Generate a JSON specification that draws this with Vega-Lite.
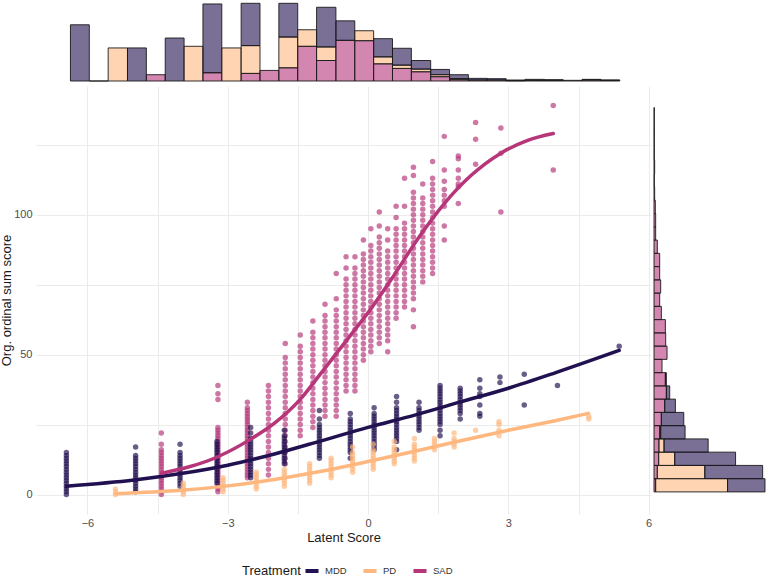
{
"$schema": "https://vega.github.io/schema/vega-lite/v6.json",
"padding": 0,
"autosize": {"type": "pad"},
"config": {"view": {"stroke": null}, "font": "Liberation Sans",
  "axis": {"labelColor": "#4D4D4D", "labelFontSize": 11, "titleFontSize": 13, "titleFontWeight": "normal", "titleColor": "#1a1a1a", "gridColor": "#EBEBEB", "gridWidth": 1, "domain": false, "ticks": false}},
"datasets": {
"fit": [
{"t":"MDD","x":-6.45,"y":3.0},{"t":"MDD","x":-5,"y":5.2},{"t":"MDD","x":-4,"y":7.5},{"t":"MDD","x":-3,"y":10.5},{"t":"MDD","x":-2,"y":14.5},{"t":"MDD","x":-1,"y":19.2},{"t":"MDD","x":0,"y":24.0},{"t":"MDD","x":1,"y":28.4},{"t":"MDD","x":2,"y":33.2},{"t":"MDD","x":3,"y":38.0},{"t":"MDD","x":4,"y":43.5},{"t":"MDD","x":5.37,"y":51.5},
{"t":"PD","x":-5.4,"y":0.3},{"t":"PD","x":-4,"y":1.5},{"t":"PD","x":-3,"y":3.1},{"t":"PD","x":-2,"y":5.4},{"t":"PD","x":-1,"y":8.3},{"t":"PD","x":0,"y":11.8},{"t":"PD","x":1,"y":15.5},{"t":"PD","x":2,"y":19.3},{"t":"PD","x":3,"y":23.0},{"t":"PD","x":4,"y":26.4},{"t":"PD","x":4.71,"y":29.0},
{"t":"SAD","x":-4.41,"y":7.6},{"t":"SAD","x":-3.2,"y":13.6},{"t":"SAD","x":-2.5,"y":19.9},{"t":"SAD","x":-2,"y":25.5},{"t":"SAD","x":-1.45,"y":34},{"t":"SAD","x":-1,"y":43.5},{"t":"SAD","x":-0.38,"y":56.8},{"t":"SAD","x":0,"y":65},{"t":"SAD","x":0.5,"y":77},{"t":"SAD","x":1.11,"y":92.5},{"t":"SAD","x":1.63,"y":104},{"t":"SAD","x":2.2,"y":114},{"t":"SAD","x":2.84,"y":122},{"t":"SAD","x":3.4,"y":126.5},{"t":"SAD","x":3.96,"y":129}
],
"topHist": [
{"t":"MDD","x0":-6.46,"x1":-6.05,"n":170},
{"t":"MDD","x0":-6.05,"x1":-5.64,"n":0},
{"t":"PD","x0":-5.64,"x1":-5.22,"n":100},
{"t":"MDD","x0":-5.22,"x1":-4.81,"n":100},
{"t":"SAD","x0":-4.81,"x1":-4.40,"n":19},
{"t":"MDD","x0":-4.40,"x1":-3.99,"n":130},
{"t":"PD","x0":-3.99,"x1":-3.58,"n":105},
{"t":"SAD","x0":-3.58,"x1":-3.17,"n":25},{"t":"MDD","x0":-3.58,"x1":-3.17,"n":208},
{"t":"PD","x0":-3.17,"x1":-2.75,"n":100},
{"t":"SAD","x0":-2.75,"x1":-2.34,"n":23},{"t":"PD","x0":-2.75,"x1":-2.34,"n":84},{"t":"MDD","x0":-2.75,"x1":-2.34,"n":128},
{"t":"SAD","x0":-2.34,"x1":-1.93,"n":32},
{"t":"SAD","x0":-1.93,"x1":-1.52,"n":40},{"t":"PD","x0":-1.93,"x1":-1.52,"n":93},{"t":"MDD","x0":-1.93,"x1":-1.52,"n":102},
{"t":"SAD","x0":-1.52,"x1":-1.11,"n":105},{"t":"PD","x0":-1.52,"x1":-1.11,"n":50},
{"t":"SAD","x0":-1.11,"x1":-0.69,"n":62},{"t":"PD","x0":-1.11,"x1":-0.69,"n":41},{"t":"MDD","x0":-1.11,"x1":-0.69,"n":120},
{"t":"SAD","x0":-0.69,"x1":-0.28,"n":123},{"t":"MDD","x0":-0.69,"x1":-0.28,"n":59},
{"t":"SAD","x0":-0.28,"x1":0.13,"n":122},{"t":"PD","x0":-0.28,"x1":0.13,"n":30},
{"t":"SAD","x0":0.13,"x1":0.54,"n":52},{"t":"PD","x0":0.13,"x1":0.54,"n":21},{"t":"MDD","x0":0.13,"x1":0.54,"n":55},
{"t":"SAD","x0":0.54,"x1":0.95,"n":38},{"t":"PD","x0":0.54,"x1":0.95,"n":10},{"t":"MDD","x0":0.54,"x1":0.95,"n":51},
{"t":"SAD","x0":0.95,"x1":1.37,"n":28},{"t":"PD","x0":0.95,"x1":1.37,"n":8},{"t":"MDD","x0":0.95,"x1":1.37,"n":26},
{"t":"SAD","x0":1.37,"x1":1.78,"n":13},{"t":"PD","x0":1.37,"x1":1.78,"n":6},{"t":"MDD","x0":1.37,"x1":1.78,"n":16},
{"t":"SAD","x0":1.78,"x1":2.19,"n":4},{"t":"PD","x0":1.78,"x1":2.19,"n":3},{"t":"MDD","x0":1.78,"x1":2.19,"n":12},
{"t":"SAD","x0":2.19,"x1":2.60,"n":3},{"t":"MDD","x0":2.19,"x1":2.60,"n":5},
{"t":"SAD","x0":2.60,"x1":3.01,"n":3},{"t":"MDD","x0":2.60,"x1":3.01,"n":4},
{"t":"SAD","x0":3.01,"x1":3.42,"n":1},{"t":"MDD","x0":3.01,"x1":3.42,"n":2},
{"t":"SAD","x0":3.42,"x1":3.84,"n":2},{"t":"MDD","x0":3.42,"x1":3.84,"n":3},
{"t":"SAD","x0":3.84,"x1":4.25,"n":2},{"t":"MDD","x0":3.84,"x1":4.25,"n":2},
{"t":"MDD","x0":4.25,"x1":4.66,"n":2},
{"t":"SAD","x0":4.66,"x1":5.07,"n":3},{"t":"MDD","x0":4.66,"x1":5.07,"n":2},
{"t":"PD","x0":5.07,"x1":5.48,"n":2},{"t":"MDD","x0":5.07,"x1":5.48,"n":1}
],
"rightHist": [
{"t":"SAD","y0":-0.7,"y1":4.15,"n":5},{"t":"PD","y0":-0.7,"y1":4.15,"n":215},{"t":"MDD","y0":-0.7,"y1":4.15,"n":112},
{"t":"SAD","y0":4.15,"y1":9.0,"n":10},{"t":"PD","y0":4.15,"y1":9.0,"n":142},{"t":"MDD","y0":4.15,"y1":9.0,"n":173},
{"t":"SAD","y0":9.0,"y1":13.85,"n":14},{"t":"PD","y0":9.0,"y1":13.85,"n":48},{"t":"MDD","y0":9.0,"y1":13.85,"n":182},
{"t":"SAD","y0":13.85,"y1":18.7,"n":15},{"t":"PD","y0":13.85,"y1":18.7,"n":15},{"t":"MDD","y0":13.85,"y1":18.7,"n":132},
{"t":"SAD","y0":18.7,"y1":23.55,"n":17},{"t":"PD","y0":18.7,"y1":23.55,"n":3},{"t":"MDD","y0":18.7,"y1":23.55,"n":73},
{"t":"SAD","y0":23.55,"y1":28.4,"n":22},{"t":"MDD","y0":23.55,"y1":28.4,"n":67},
{"t":"SAD","y0":28.4,"y1":33.25,"n":32},{"t":"MDD","y0":28.4,"y1":33.25,"n":32},
{"t":"SAD","y0":33.25,"y1":38.1,"n":37},{"t":"MDD","y0":33.25,"y1":38.1,"n":10},
{"t":"SAD","y0":38.1,"y1":42.95,"n":34},{"t":"MDD","y0":38.1,"y1":42.95,"n":3},
{"t":"SAD","y0":42.95,"y1":47.8,"n":24},
{"t":"SAD","y0":47.8,"y1":52.65,"n":39},
{"t":"SAD","y0":52.65,"y1":57.5,"n":35},
{"t":"SAD","y0":57.5,"y1":62.35,"n":34},
{"t":"SAD","y0":62.35,"y1":67.2,"n":22},
{"t":"SAD","y0":67.2,"y1":72.05,"n":17},
{"t":"SAD","y0":72.05,"y1":76.9,"n":20},
{"t":"SAD","y0":76.9,"y1":81.75,"n":17},
{"t":"SAD","y0":81.75,"y1":86.6,"n":17},
{"t":"SAD","y0":86.6,"y1":91.45,"n":10},
{"t":"SAD","y0":91.45,"y1":96.3,"n":5},
{"t":"SAD","y0":96.3,"y1":101.15,"n":5},
{"t":"SAD","y0":101.15,"y1":106.0,"n":4},
{"t":"SAD","y0":106.0,"y1":110.85,"n":2},
{"t":"SAD","y0":110.85,"y1":115.7,"n":1},
{"t":"SAD","y0":115.7,"y1":120.55,"n":2},
{"t":"SAD","y0":120.55,"y1":125.4,"n":1},
{"t":"SAD","y0":125.4,"y1":130.25,"n":1},
{"t":"SAD","y0":130.25,"y1":135.1,"n":1},
{"t":"SAD","y0":135.1,"y1":139.95,"n":1}
],
"blank": [{"k":""}],
"pts": [
{"t":"SAD","x":-4.42,"y":0},{"t":"SAD","x":-4.42,"y":1},{"t":"SAD","x":-4.42,"y":2},{"t":"SAD","x":-4.42,"y":3},{"t":"SAD","x":-4.42,"y":4},{"t":"SAD","x":-4.42,"y":5},{"t":"SAD","x":-4.42,"y":6},{"t":"SAD","x":-4.42,"y":7},{"t":"SAD","x":-4.42,"y":8},{"t":"SAD","x":-4.42,"y":9},{"t":"SAD","x":-4.42,"y":10},{"t":"SAD","x":-4.42,"y":11},{"t":"SAD","x":-4.42,"y":12},{"t":"SAD","x":-4.42,"y":13},{"t":"SAD","x":-4.42,"y":14},{"t":"SAD","x":-4.42,"y":15},{"t":"SAD","x":-4.42,"y":16},{"t":"SAD","x":-4.42,"y":18},{"t":"SAD","x":-4.42,"y":22},
{"t":"SAD","x":-3.21,"y":1},{"t":"SAD","x":-3.21,"y":2},{"t":"SAD","x":-3.21,"y":3},{"t":"SAD","x":-3.21,"y":4},{"t":"SAD","x":-3.21,"y":5},{"t":"SAD","x":-3.21,"y":6},{"t":"SAD","x":-3.21,"y":7},{"t":"SAD","x":-3.21,"y":8},{"t":"SAD","x":-3.21,"y":9},{"t":"SAD","x":-3.21,"y":10},{"t":"SAD","x":-3.21,"y":11},{"t":"SAD","x":-3.21,"y":12},{"t":"SAD","x":-3.21,"y":13},{"t":"SAD","x":-3.21,"y":14},{"t":"SAD","x":-3.21,"y":15},{"t":"SAD","x":-3.21,"y":16},{"t":"SAD","x":-3.21,"y":17},{"t":"SAD","x":-3.21,"y":18},{"t":"SAD","x":-3.21,"y":19},{"t":"SAD","x":-3.21,"y":20},{"t":"SAD","x":-3.21,"y":21},{"t":"SAD","x":-3.21,"y":22},{"t":"SAD","x":-3.21,"y":23},{"t":"SAD","x":-3.21,"y":24},{"t":"SAD","x":-3.21,"y":34},{"t":"SAD","x":-3.21,"y":36},{"t":"SAD","x":-3.21,"y":39},
{"t":"SAD","x":-2.58,"y":6},{"t":"SAD","x":-2.58,"y":7},{"t":"SAD","x":-2.58,"y":8},{"t":"SAD","x":-2.58,"y":9},{"t":"SAD","x":-2.58,"y":10},{"t":"SAD","x":-2.58,"y":11},{"t":"SAD","x":-2.58,"y":12},{"t":"SAD","x":-2.58,"y":13},{"t":"SAD","x":-2.58,"y":14},{"t":"SAD","x":-2.58,"y":15},{"t":"SAD","x":-2.58,"y":16},{"t":"SAD","x":-2.58,"y":17},{"t":"SAD","x":-2.58,"y":18},{"t":"SAD","x":-2.58,"y":19},{"t":"SAD","x":-2.58,"y":20},{"t":"SAD","x":-2.58,"y":21},{"t":"SAD","x":-2.58,"y":22},{"t":"SAD","x":-2.58,"y":23},{"t":"SAD","x":-2.58,"y":24},{"t":"SAD","x":-2.58,"y":25},{"t":"SAD","x":-2.58,"y":26},{"t":"SAD","x":-2.58,"y":27},{"t":"SAD","x":-2.58,"y":28},{"t":"SAD","x":-2.58,"y":29},{"t":"SAD","x":-2.58,"y":30},{"t":"SAD","x":-2.58,"y":31},{"t":"SAD","x":-2.58,"y":33},
{"t":"SAD","x":-2.13,"y":7},{"t":"SAD","x":-2.13,"y":9},{"t":"SAD","x":-2.13,"y":11},{"t":"SAD","x":-2.13,"y":13},{"t":"SAD","x":-2.13,"y":15},{"t":"SAD","x":-2.13,"y":17},{"t":"SAD","x":-2.13,"y":19},{"t":"SAD","x":-2.13,"y":21},{"t":"SAD","x":-2.13,"y":23},{"t":"SAD","x":-2.13,"y":25},{"t":"SAD","x":-2.13,"y":27},{"t":"SAD","x":-2.13,"y":29},{"t":"SAD","x":-2.13,"y":31},{"t":"SAD","x":-2.13,"y":33},{"t":"SAD","x":-2.13,"y":35},{"t":"SAD","x":-2.13,"y":37},{"t":"SAD","x":-2.13,"y":39},
{"t":"SAD","x":-1.77,"y":11},{"t":"SAD","x":-1.77,"y":13},{"t":"SAD","x":-1.77,"y":15},{"t":"SAD","x":-1.77,"y":17},{"t":"SAD","x":-1.77,"y":19},{"t":"SAD","x":-1.77,"y":21},{"t":"SAD","x":-1.77,"y":23},{"t":"SAD","x":-1.77,"y":25},{"t":"SAD","x":-1.77,"y":27},{"t":"SAD","x":-1.77,"y":29},{"t":"SAD","x":-1.77,"y":31},{"t":"SAD","x":-1.77,"y":33},{"t":"SAD","x":-1.77,"y":35},{"t":"SAD","x":-1.77,"y":37},{"t":"SAD","x":-1.77,"y":39},{"t":"SAD","x":-1.77,"y":41},{"t":"SAD","x":-1.77,"y":43},{"t":"SAD","x":-1.77,"y":45},{"t":"SAD","x":-1.77,"y":47},{"t":"SAD","x":-1.77,"y":49},{"t":"SAD","x":-1.77,"y":54},
{"t":"SAD","x":-1.45,"y":21},{"t":"SAD","x":-1.45,"y":23},{"t":"SAD","x":-1.45,"y":25},{"t":"SAD","x":-1.45,"y":27},{"t":"SAD","x":-1.45,"y":29},{"t":"SAD","x":-1.45,"y":31},{"t":"SAD","x":-1.45,"y":33},{"t":"SAD","x":-1.45,"y":35},{"t":"SAD","x":-1.45,"y":37},{"t":"SAD","x":-1.45,"y":39},{"t":"SAD","x":-1.45,"y":41},{"t":"SAD","x":-1.45,"y":43},{"t":"SAD","x":-1.45,"y":45},{"t":"SAD","x":-1.45,"y":47},{"t":"SAD","x":-1.45,"y":49},{"t":"SAD","x":-1.45,"y":51},{"t":"SAD","x":-1.45,"y":53},{"t":"SAD","x":-1.45,"y":57},
{"t":"SAD","x":-1.18,"y":24},{"t":"SAD","x":-1.18,"y":26},{"t":"SAD","x":-1.18,"y":28},{"t":"SAD","x":-1.18,"y":30},{"t":"SAD","x":-1.18,"y":32},{"t":"SAD","x":-1.18,"y":34},{"t":"SAD","x":-1.18,"y":36},{"t":"SAD","x":-1.18,"y":38},{"t":"SAD","x":-1.18,"y":40},{"t":"SAD","x":-1.18,"y":42},{"t":"SAD","x":-1.18,"y":44},{"t":"SAD","x":-1.18,"y":46},{"t":"SAD","x":-1.18,"y":48},{"t":"SAD","x":-1.18,"y":50},{"t":"SAD","x":-1.18,"y":52},{"t":"SAD","x":-1.18,"y":54},{"t":"SAD","x":-1.18,"y":56},{"t":"SAD","x":-1.18,"y":58},{"t":"SAD","x":-1.18,"y":62},
{"t":"SAD","x":-0.92,"y":28},{"t":"SAD","x":-0.92,"y":30},{"t":"SAD","x":-0.92,"y":32},{"t":"SAD","x":-0.92,"y":34},{"t":"SAD","x":-0.92,"y":36},{"t":"SAD","x":-0.92,"y":38},{"t":"SAD","x":-0.92,"y":40},{"t":"SAD","x":-0.92,"y":42},{"t":"SAD","x":-0.92,"y":44},{"t":"SAD","x":-0.92,"y":46},{"t":"SAD","x":-0.92,"y":48},{"t":"SAD","x":-0.92,"y":50},{"t":"SAD","x":-0.92,"y":52},{"t":"SAD","x":-0.92,"y":54},{"t":"SAD","x":-0.92,"y":56},{"t":"SAD","x":-0.92,"y":58},{"t":"SAD","x":-0.92,"y":60},{"t":"SAD","x":-0.92,"y":62},{"t":"SAD","x":-0.92,"y":64},{"t":"SAD","x":-0.92,"y":68},
{"t":"SAD","x":-0.68,"y":28},{"t":"SAD","x":-0.68,"y":30},{"t":"SAD","x":-0.68,"y":32},{"t":"SAD","x":-0.68,"y":34},{"t":"SAD","x":-0.68,"y":36},{"t":"SAD","x":-0.68,"y":38},{"t":"SAD","x":-0.68,"y":40},{"t":"SAD","x":-0.68,"y":42},{"t":"SAD","x":-0.68,"y":44},{"t":"SAD","x":-0.68,"y":46},{"t":"SAD","x":-0.68,"y":48},{"t":"SAD","x":-0.68,"y":50},{"t":"SAD","x":-0.68,"y":52},{"t":"SAD","x":-0.68,"y":54},{"t":"SAD","x":-0.68,"y":56},{"t":"SAD","x":-0.68,"y":58},{"t":"SAD","x":-0.68,"y":60},{"t":"SAD","x":-0.68,"y":62},{"t":"SAD","x":-0.68,"y":64},{"t":"SAD","x":-0.68,"y":66},{"t":"SAD","x":-0.68,"y":70},{"t":"SAD","x":-0.68,"y":79},
{"t":"SAD","x":-0.47,"y":37},{"t":"SAD","x":-0.47,"y":39},{"t":"SAD","x":-0.47,"y":41},{"t":"SAD","x":-0.47,"y":43},{"t":"SAD","x":-0.47,"y":45},{"t":"SAD","x":-0.47,"y":47},{"t":"SAD","x":-0.47,"y":49},{"t":"SAD","x":-0.47,"y":51},{"t":"SAD","x":-0.47,"y":53},{"t":"SAD","x":-0.47,"y":55},{"t":"SAD","x":-0.47,"y":57},{"t":"SAD","x":-0.47,"y":59},{"t":"SAD","x":-0.47,"y":61},{"t":"SAD","x":-0.47,"y":63},{"t":"SAD","x":-0.47,"y":65},{"t":"SAD","x":-0.47,"y":67},{"t":"SAD","x":-0.47,"y":69},{"t":"SAD","x":-0.47,"y":71},{"t":"SAD","x":-0.47,"y":73},{"t":"SAD","x":-0.47,"y":75},{"t":"SAD","x":-0.47,"y":77},{"t":"SAD","x":-0.47,"y":81},{"t":"SAD","x":-0.47,"y":85},
{"t":"SAD","x":-0.28,"y":37},{"t":"SAD","x":-0.28,"y":39},{"t":"SAD","x":-0.28,"y":41},{"t":"SAD","x":-0.28,"y":43},{"t":"SAD","x":-0.28,"y":45},{"t":"SAD","x":-0.28,"y":47},{"t":"SAD","x":-0.28,"y":49},{"t":"SAD","x":-0.28,"y":51},{"t":"SAD","x":-0.28,"y":53},{"t":"SAD","x":-0.28,"y":55},{"t":"SAD","x":-0.28,"y":57},{"t":"SAD","x":-0.28,"y":59},{"t":"SAD","x":-0.28,"y":61},{"t":"SAD","x":-0.28,"y":63},{"t":"SAD","x":-0.28,"y":65},{"t":"SAD","x":-0.28,"y":67},{"t":"SAD","x":-0.28,"y":69},{"t":"SAD","x":-0.28,"y":71},{"t":"SAD","x":-0.28,"y":73},{"t":"SAD","x":-0.28,"y":75},{"t":"SAD","x":-0.28,"y":77},{"t":"SAD","x":-0.28,"y":79},{"t":"SAD","x":-0.28,"y":81},{"t":"SAD","x":-0.28,"y":85},
{"t":"SAD","x":-0.1,"y":48},{"t":"SAD","x":-0.1,"y":50},{"t":"SAD","x":-0.1,"y":52},{"t":"SAD","x":-0.1,"y":54},{"t":"SAD","x":-0.1,"y":56},{"t":"SAD","x":-0.1,"y":58},{"t":"SAD","x":-0.1,"y":60},{"t":"SAD","x":-0.1,"y":62},{"t":"SAD","x":-0.1,"y":64},{"t":"SAD","x":-0.1,"y":66},{"t":"SAD","x":-0.1,"y":68},{"t":"SAD","x":-0.1,"y":70},{"t":"SAD","x":-0.1,"y":72},{"t":"SAD","x":-0.1,"y":74},{"t":"SAD","x":-0.1,"y":76},{"t":"SAD","x":-0.1,"y":78},{"t":"SAD","x":-0.1,"y":80},{"t":"SAD","x":-0.1,"y":82},{"t":"SAD","x":-0.1,"y":84},{"t":"SAD","x":-0.1,"y":86},{"t":"SAD","x":-0.1,"y":91},
{"t":"SAD","x":0.06,"y":51},{"t":"SAD","x":0.06,"y":53},{"t":"SAD","x":0.06,"y":55},{"t":"SAD","x":0.06,"y":57},{"t":"SAD","x":0.06,"y":59},{"t":"SAD","x":0.06,"y":61},{"t":"SAD","x":0.06,"y":63},{"t":"SAD","x":0.06,"y":65},{"t":"SAD","x":0.06,"y":67},{"t":"SAD","x":0.06,"y":69},{"t":"SAD","x":0.06,"y":71},{"t":"SAD","x":0.06,"y":73},{"t":"SAD","x":0.06,"y":75},{"t":"SAD","x":0.06,"y":77},{"t":"SAD","x":0.06,"y":79},{"t":"SAD","x":0.06,"y":81},{"t":"SAD","x":0.06,"y":83},{"t":"SAD","x":0.06,"y":85},{"t":"SAD","x":0.06,"y":87},{"t":"SAD","x":0.06,"y":89},{"t":"SAD","x":0.06,"y":95},
{"t":"SAD","x":0.24,"y":54},{"t":"SAD","x":0.24,"y":56},{"t":"SAD","x":0.24,"y":58},{"t":"SAD","x":0.24,"y":60},{"t":"SAD","x":0.24,"y":62},{"t":"SAD","x":0.24,"y":64},{"t":"SAD","x":0.24,"y":66},{"t":"SAD","x":0.24,"y":68},{"t":"SAD","x":0.24,"y":70},{"t":"SAD","x":0.24,"y":72},{"t":"SAD","x":0.24,"y":74},{"t":"SAD","x":0.24,"y":76},{"t":"SAD","x":0.24,"y":78},{"t":"SAD","x":0.24,"y":80},{"t":"SAD","x":0.24,"y":82},{"t":"SAD","x":0.24,"y":84},{"t":"SAD","x":0.24,"y":86},{"t":"SAD","x":0.24,"y":88},{"t":"SAD","x":0.24,"y":90},{"t":"SAD","x":0.24,"y":92},{"t":"SAD","x":0.24,"y":96},{"t":"SAD","x":0.24,"y":101},
{"t":"SAD","x":0.42,"y":51},{"t":"SAD","x":0.42,"y":55},{"t":"SAD","x":0.42,"y":57},{"t":"SAD","x":0.42,"y":59},{"t":"SAD","x":0.42,"y":61},{"t":"SAD","x":0.42,"y":63},{"t":"SAD","x":0.42,"y":65},{"t":"SAD","x":0.42,"y":67},{"t":"SAD","x":0.42,"y":69},{"t":"SAD","x":0.42,"y":71},{"t":"SAD","x":0.42,"y":73},{"t":"SAD","x":0.42,"y":75},{"t":"SAD","x":0.42,"y":77},{"t":"SAD","x":0.42,"y":79},{"t":"SAD","x":0.42,"y":81},{"t":"SAD","x":0.42,"y":83},{"t":"SAD","x":0.42,"y":85},{"t":"SAD","x":0.42,"y":87},{"t":"SAD","x":0.42,"y":91},{"t":"SAD","x":0.42,"y":95},
{"t":"SAD","x":0.6,"y":63},{"t":"SAD","x":0.6,"y":65},{"t":"SAD","x":0.6,"y":67},{"t":"SAD","x":0.6,"y":69},{"t":"SAD","x":0.6,"y":71},{"t":"SAD","x":0.6,"y":73},{"t":"SAD","x":0.6,"y":75},{"t":"SAD","x":0.6,"y":77},{"t":"SAD","x":0.6,"y":79},{"t":"SAD","x":0.6,"y":81},{"t":"SAD","x":0.6,"y":83},{"t":"SAD","x":0.6,"y":85},{"t":"SAD","x":0.6,"y":87},{"t":"SAD","x":0.6,"y":89},{"t":"SAD","x":0.6,"y":91},{"t":"SAD","x":0.6,"y":93},{"t":"SAD","x":0.6,"y":95},{"t":"SAD","x":0.6,"y":99},{"t":"SAD","x":0.6,"y":103},
{"t":"SAD","x":0.78,"y":67},{"t":"SAD","x":0.78,"y":69},{"t":"SAD","x":0.78,"y":71},{"t":"SAD","x":0.78,"y":73},{"t":"SAD","x":0.78,"y":75},{"t":"SAD","x":0.78,"y":77},{"t":"SAD","x":0.78,"y":79},{"t":"SAD","x":0.78,"y":81},{"t":"SAD","x":0.78,"y":83},{"t":"SAD","x":0.78,"y":85},{"t":"SAD","x":0.78,"y":87},{"t":"SAD","x":0.78,"y":89},{"t":"SAD","x":0.78,"y":91},{"t":"SAD","x":0.78,"y":93},{"t":"SAD","x":0.78,"y":95},{"t":"SAD","x":0.78,"y":97},{"t":"SAD","x":0.78,"y":103},{"t":"SAD","x":0.78,"y":113},
{"t":"SAD","x":0.97,"y":60},{"t":"SAD","x":0.97,"y":66},{"t":"SAD","x":0.97,"y":70},{"t":"SAD","x":0.97,"y":72},{"t":"SAD","x":0.97,"y":74},{"t":"SAD","x":0.97,"y":76},{"t":"SAD","x":0.97,"y":78},{"t":"SAD","x":0.97,"y":80},{"t":"SAD","x":0.97,"y":82},{"t":"SAD","x":0.97,"y":84},{"t":"SAD","x":0.97,"y":86},{"t":"SAD","x":0.97,"y":88},{"t":"SAD","x":0.97,"y":90},{"t":"SAD","x":0.97,"y":92},{"t":"SAD","x":0.97,"y":94},{"t":"SAD","x":0.97,"y":96},{"t":"SAD","x":0.97,"y":98},{"t":"SAD","x":0.97,"y":100},{"t":"SAD","x":0.97,"y":102},{"t":"SAD","x":0.97,"y":104},{"t":"SAD","x":0.97,"y":106},{"t":"SAD","x":0.97,"y":108},{"t":"SAD","x":0.97,"y":114},{"t":"SAD","x":0.97,"y":117},
{"t":"SAD","x":1.17,"y":76},{"t":"SAD","x":1.17,"y":78},{"t":"SAD","x":1.17,"y":80},{"t":"SAD","x":1.17,"y":82},{"t":"SAD","x":1.17,"y":84},{"t":"SAD","x":1.17,"y":86},{"t":"SAD","x":1.17,"y":88},{"t":"SAD","x":1.17,"y":90},{"t":"SAD","x":1.17,"y":92},{"t":"SAD","x":1.17,"y":94},{"t":"SAD","x":1.17,"y":96},{"t":"SAD","x":1.17,"y":98},{"t":"SAD","x":1.17,"y":100},{"t":"SAD","x":1.17,"y":102},{"t":"SAD","x":1.17,"y":104},{"t":"SAD","x":1.17,"y":106},{"t":"SAD","x":1.17,"y":111},
{"t":"SAD","x":1.38,"y":79},{"t":"SAD","x":1.38,"y":81},{"t":"SAD","x":1.38,"y":83},{"t":"SAD","x":1.38,"y":85},{"t":"SAD","x":1.38,"y":87},{"t":"SAD","x":1.38,"y":89},{"t":"SAD","x":1.38,"y":91},{"t":"SAD","x":1.38,"y":93},{"t":"SAD","x":1.38,"y":95},{"t":"SAD","x":1.38,"y":97},{"t":"SAD","x":1.38,"y":99},{"t":"SAD","x":1.38,"y":101},{"t":"SAD","x":1.38,"y":103},{"t":"SAD","x":1.38,"y":105},{"t":"SAD","x":1.38,"y":107},{"t":"SAD","x":1.38,"y":109},{"t":"SAD","x":1.38,"y":111},{"t":"SAD","x":1.38,"y":113},{"t":"SAD","x":1.38,"y":119},
{"t":"SAD","x":1.63,"y":91},{"t":"SAD","x":1.63,"y":96},{"t":"SAD","x":1.63,"y":103},{"t":"SAD","x":1.63,"y":105},{"t":"SAD","x":1.63,"y":107},{"t":"SAD","x":1.63,"y":109},{"t":"SAD","x":1.63,"y":112},{"t":"SAD","x":1.63,"y":116},{"t":"SAD","x":1.63,"y":128},
{"t":"SAD","x":1.93,"y":104},{"t":"SAD","x":1.93,"y":110},{"t":"SAD","x":1.93,"y":111},{"t":"SAD","x":1.93,"y":113},{"t":"SAD","x":1.93,"y":116},{"t":"SAD","x":1.93,"y":120},{"t":"SAD","x":1.93,"y":121},
{"t":"SAD","x":2.3,"y":118},{"t":"SAD","x":2.3,"y":127},{"t":"SAD","x":2.3,"y":133},
{"t":"SAD","x":2.84,"y":101},{"t":"SAD","x":2.84,"y":122},{"t":"SAD","x":2.84,"y":131},
{"t":"SAD","x":3.96,"y":116},{"t":"SAD","x":3.96,"y":139},
{"t":"MDD","x":-6.45,"y":0},{"t":"MDD","x":-6.45,"y":1},{"t":"MDD","x":-6.45,"y":2},{"t":"MDD","x":-6.45,"y":3},{"t":"MDD","x":-6.45,"y":4},{"t":"MDD","x":-6.45,"y":5},{"t":"MDD","x":-6.45,"y":6},{"t":"MDD","x":-6.45,"y":7},{"t":"MDD","x":-6.45,"y":8},{"t":"MDD","x":-6.45,"y":9},{"t":"MDD","x":-6.45,"y":10},{"t":"MDD","x":-6.45,"y":11},{"t":"MDD","x":-6.45,"y":12},{"t":"MDD","x":-6.45,"y":13},{"t":"MDD","x":-6.45,"y":14},{"t":"MDD","x":-6.45,"y":15},
{"t":"MDD","x":-4.97,"y":1},{"t":"MDD","x":-4.97,"y":2},{"t":"MDD","x":-4.97,"y":3},{"t":"MDD","x":-4.97,"y":4},{"t":"MDD","x":-4.97,"y":5},{"t":"MDD","x":-4.97,"y":6},{"t":"MDD","x":-4.97,"y":7},{"t":"MDD","x":-4.97,"y":8},{"t":"MDD","x":-4.97,"y":9},{"t":"MDD","x":-4.97,"y":10},{"t":"MDD","x":-4.97,"y":11},{"t":"MDD","x":-4.97,"y":12},{"t":"MDD","x":-4.97,"y":13},{"t":"MDD","x":-4.97,"y":14},{"t":"MDD","x":-4.97,"y":17},
{"t":"MDD","x":-4.02,"y":3},{"t":"MDD","x":-4.02,"y":4},{"t":"MDD","x":-4.02,"y":5},{"t":"MDD","x":-4.02,"y":6},{"t":"MDD","x":-4.02,"y":7},{"t":"MDD","x":-4.02,"y":8},{"t":"MDD","x":-4.02,"y":9},{"t":"MDD","x":-4.02,"y":10},{"t":"MDD","x":-4.02,"y":11},{"t":"MDD","x":-4.02,"y":12},{"t":"MDD","x":-4.02,"y":13},{"t":"MDD","x":-4.02,"y":14},{"t":"MDD","x":-4.02,"y":15},{"t":"MDD","x":-4.02,"y":18},
{"t":"MDD","x":-3.23,"y":4},{"t":"MDD","x":-3.23,"y":5},{"t":"MDD","x":-3.23,"y":6},{"t":"MDD","x":-3.23,"y":7},{"t":"MDD","x":-3.23,"y":8},{"t":"MDD","x":-3.23,"y":9},{"t":"MDD","x":-3.23,"y":10},{"t":"MDD","x":-3.23,"y":11},{"t":"MDD","x":-3.23,"y":12},{"t":"MDD","x":-3.23,"y":13},{"t":"MDD","x":-3.23,"y":14},{"t":"MDD","x":-3.23,"y":15},{"t":"MDD","x":-3.23,"y":16},{"t":"MDD","x":-3.23,"y":17},{"t":"MDD","x":-3.23,"y":18},{"t":"MDD","x":-3.23,"y":19},
{"t":"MDD","x":-2.51,"y":6},{"t":"MDD","x":-2.51,"y":7},{"t":"MDD","x":-2.51,"y":8},{"t":"MDD","x":-2.51,"y":9},{"t":"MDD","x":-2.51,"y":10},{"t":"MDD","x":-2.51,"y":11},{"t":"MDD","x":-2.51,"y":12},{"t":"MDD","x":-2.51,"y":13},{"t":"MDD","x":-2.51,"y":14},{"t":"MDD","x":-2.51,"y":15},{"t":"MDD","x":-2.51,"y":16},{"t":"MDD","x":-2.51,"y":17},{"t":"MDD","x":-2.51,"y":18},{"t":"MDD","x":-2.51,"y":19},{"t":"MDD","x":-2.51,"y":20},{"t":"MDD","x":-2.51,"y":22},{"t":"MDD","x":-2.51,"y":24},
{"t":"MDD","x":-1.79,"y":11},{"t":"MDD","x":-1.79,"y":12},{"t":"MDD","x":-1.79,"y":13},{"t":"MDD","x":-1.79,"y":14},{"t":"MDD","x":-1.79,"y":15},{"t":"MDD","x":-1.79,"y":16},{"t":"MDD","x":-1.79,"y":17},{"t":"MDD","x":-1.79,"y":18},{"t":"MDD","x":-1.79,"y":19},{"t":"MDD","x":-1.79,"y":20},{"t":"MDD","x":-1.79,"y":21},{"t":"MDD","x":-1.79,"y":23},
{"t":"MDD","x":-1.04,"y":13},{"t":"MDD","x":-1.04,"y":14},{"t":"MDD","x":-1.04,"y":15},{"t":"MDD","x":-1.04,"y":16},{"t":"MDD","x":-1.04,"y":17},{"t":"MDD","x":-1.04,"y":18},{"t":"MDD","x":-1.04,"y":19},{"t":"MDD","x":-1.04,"y":20},{"t":"MDD","x":-1.04,"y":21},{"t":"MDD","x":-1.04,"y":22},{"t":"MDD","x":-1.04,"y":23},{"t":"MDD","x":-1.04,"y":24},{"t":"MDD","x":-1.04,"y":25},{"t":"MDD","x":-1.04,"y":27},{"t":"MDD","x":-1.04,"y":30},
{"t":"MDD","x":-0.38,"y":13},{"t":"MDD","x":-0.38,"y":15},{"t":"MDD","x":-0.38,"y":16},{"t":"MDD","x":-0.38,"y":17},{"t":"MDD","x":-0.38,"y":18},{"t":"MDD","x":-0.38,"y":19},{"t":"MDD","x":-0.38,"y":20},{"t":"MDD","x":-0.38,"y":21},{"t":"MDD","x":-0.38,"y":22},{"t":"MDD","x":-0.38,"y":23},{"t":"MDD","x":-0.38,"y":24},{"t":"MDD","x":-0.38,"y":25},{"t":"MDD","x":-0.38,"y":26},{"t":"MDD","x":-0.38,"y":27},{"t":"MDD","x":-0.38,"y":29},
{"t":"MDD","x":0.13,"y":16},{"t":"MDD","x":0.13,"y":17},{"t":"MDD","x":0.13,"y":18},{"t":"MDD","x":0.13,"y":19},{"t":"MDD","x":0.13,"y":20},{"t":"MDD","x":0.13,"y":21},{"t":"MDD","x":0.13,"y":22},{"t":"MDD","x":0.13,"y":23},{"t":"MDD","x":0.13,"y":24},{"t":"MDD","x":0.13,"y":25},{"t":"MDD","x":0.13,"y":26},{"t":"MDD","x":0.13,"y":27},{"t":"MDD","x":0.13,"y":28},{"t":"MDD","x":0.13,"y":29},{"t":"MDD","x":0.13,"y":31},
{"t":"MDD","x":0.61,"y":16},{"t":"MDD","x":0.61,"y":19},{"t":"MDD","x":0.61,"y":20},{"t":"MDD","x":0.61,"y":21},{"t":"MDD","x":0.61,"y":22},{"t":"MDD","x":0.61,"y":23},{"t":"MDD","x":0.61,"y":24},{"t":"MDD","x":0.61,"y":25},{"t":"MDD","x":0.61,"y":26},{"t":"MDD","x":0.61,"y":27},{"t":"MDD","x":0.61,"y":28},{"t":"MDD","x":0.61,"y":29},{"t":"MDD","x":0.61,"y":30},{"t":"MDD","x":0.61,"y":31},{"t":"MDD","x":0.61,"y":33},{"t":"MDD","x":0.61,"y":35},
{"t":"MDD","x":1.09,"y":23},{"t":"MDD","x":1.09,"y":24},{"t":"MDD","x":1.09,"y":25},{"t":"MDD","x":1.09,"y":26},{"t":"MDD","x":1.09,"y":27},{"t":"MDD","x":1.09,"y":28},{"t":"MDD","x":1.09,"y":29},{"t":"MDD","x":1.09,"y":30},{"t":"MDD","x":1.09,"y":31},{"t":"MDD","x":1.09,"y":33},
{"t":"MDD","x":1.54,"y":21},{"t":"MDD","x":1.54,"y":23},{"t":"MDD","x":1.54,"y":25},{"t":"MDD","x":1.54,"y":26},{"t":"MDD","x":1.54,"y":27},{"t":"MDD","x":1.54,"y":28},{"t":"MDD","x":1.54,"y":29},{"t":"MDD","x":1.54,"y":30},{"t":"MDD","x":1.54,"y":31},{"t":"MDD","x":1.54,"y":32},{"t":"MDD","x":1.54,"y":33},{"t":"MDD","x":1.54,"y":34},{"t":"MDD","x":1.54,"y":35},{"t":"MDD","x":1.54,"y":36},{"t":"MDD","x":1.54,"y":37},{"t":"MDD","x":1.54,"y":38},{"t":"MDD","x":1.54,"y":39},
{"t":"MDD","x":1.97,"y":27},{"t":"MDD","x":1.97,"y":29},{"t":"MDD","x":1.97,"y":30},{"t":"MDD","x":1.97,"y":31},{"t":"MDD","x":1.97,"y":32},{"t":"MDD","x":1.97,"y":33},{"t":"MDD","x":1.97,"y":34},{"t":"MDD","x":1.97,"y":35},{"t":"MDD","x":1.97,"y":36},{"t":"MDD","x":1.97,"y":37},{"t":"MDD","x":1.97,"y":38},
{"t":"MDD","x":2.39,"y":28},{"t":"MDD","x":2.39,"y":29},{"t":"MDD","x":2.39,"y":32},{"t":"MDD","x":2.39,"y":35},{"t":"MDD","x":2.39,"y":36},{"t":"MDD","x":2.39,"y":38},{"t":"MDD","x":2.39,"y":41},
{"t":"MDD","x":2.82,"y":40},{"t":"MDD","x":2.82,"y":42},
{"t":"MDD","x":3.34,"y":32},{"t":"MDD","x":3.34,"y":43},
{"t":"MDD","x":4.05,"y":39},
{"t":"MDD","x":5.37,"y":53},
{"t":"PD","x":-5.4,"y":0},{"t":"PD","x":-5.4,"y":1},{"t":"PD","x":-5.4,"y":2},
{"t":"PD","x":-3.95,"y":0},{"t":"PD","x":-3.95,"y":1},{"t":"PD","x":-3.95,"y":2},{"t":"PD","x":-3.95,"y":3},{"t":"PD","x":-3.95,"y":4},
{"t":"PD","x":-3.1,"y":1},{"t":"PD","x":-3.1,"y":2},{"t":"PD","x":-3.1,"y":3},{"t":"PD","x":-3.1,"y":4},{"t":"PD","x":-3.1,"y":5},{"t":"PD","x":-3.1,"y":6},
{"t":"PD","x":-2.39,"y":2},{"t":"PD","x":-2.39,"y":3},{"t":"PD","x":-2.39,"y":4},{"t":"PD","x":-2.39,"y":5},{"t":"PD","x":-2.39,"y":6},{"t":"PD","x":-2.39,"y":7},{"t":"PD","x":-2.39,"y":8},
{"t":"PD","x":-1.79,"y":3},{"t":"PD","x":-1.79,"y":4},{"t":"PD","x":-1.79,"y":5},{"t":"PD","x":-1.79,"y":6},{"t":"PD","x":-1.79,"y":7},{"t":"PD","x":-1.79,"y":8},{"t":"PD","x":-1.79,"y":9},
{"t":"PD","x":-1.25,"y":4},{"t":"PD","x":-1.25,"y":5},{"t":"PD","x":-1.25,"y":6},{"t":"PD","x":-1.25,"y":7},{"t":"PD","x":-1.25,"y":8},{"t":"PD","x":-1.25,"y":9},{"t":"PD","x":-1.25,"y":10},{"t":"PD","x":-1.25,"y":11},
{"t":"PD","x":-0.79,"y":6},{"t":"PD","x":-0.79,"y":7},{"t":"PD","x":-0.79,"y":8},{"t":"PD","x":-0.79,"y":9},{"t":"PD","x":-0.79,"y":10},{"t":"PD","x":-0.79,"y":11},{"t":"PD","x":-0.79,"y":12},{"t":"PD","x":-0.79,"y":13},
{"t":"PD","x":-0.33,"y":8},{"t":"PD","x":-0.33,"y":9},{"t":"PD","x":-0.33,"y":10},{"t":"PD","x":-0.33,"y":11},{"t":"PD","x":-0.33,"y":12},{"t":"PD","x":-0.33,"y":13},{"t":"PD","x":-0.33,"y":14},{"t":"PD","x":-0.33,"y":15},{"t":"PD","x":-0.33,"y":17},
{"t":"PD","x":0.11,"y":9},{"t":"PD","x":0.11,"y":10},{"t":"PD","x":0.11,"y":11},{"t":"PD","x":0.11,"y":12},{"t":"PD","x":0.11,"y":13},{"t":"PD","x":0.11,"y":14},{"t":"PD","x":0.11,"y":15},{"t":"PD","x":0.11,"y":16},{"t":"PD","x":0.11,"y":18},
{"t":"PD","x":0.56,"y":11},{"t":"PD","x":0.56,"y":12},{"t":"PD","x":0.56,"y":13},{"t":"PD","x":0.56,"y":14},{"t":"PD","x":0.56,"y":15},{"t":"PD","x":0.56,"y":16},{"t":"PD","x":0.56,"y":17},{"t":"PD","x":0.56,"y":19},
{"t":"PD","x":0.99,"y":12},{"t":"PD","x":0.99,"y":13},{"t":"PD","x":0.99,"y":14},{"t":"PD","x":0.99,"y":15},{"t":"PD","x":0.99,"y":16},{"t":"PD","x":0.99,"y":17},{"t":"PD","x":0.99,"y":18},{"t":"PD","x":0.99,"y":20},
{"t":"PD","x":1.42,"y":16},{"t":"PD","x":1.42,"y":17},{"t":"PD","x":1.42,"y":18},{"t":"PD","x":1.42,"y":19},{"t":"PD","x":1.42,"y":20},
{"t":"PD","x":1.84,"y":17},{"t":"PD","x":1.84,"y":18},{"t":"PD","x":1.84,"y":19},{"t":"PD","x":1.84,"y":20},{"t":"PD","x":1.84,"y":22},
{"t":"PD","x":2.3,"y":23},
{"t":"PD","x":2.8,"y":21},{"t":"PD","x":2.8,"y":23},{"t":"PD","x":2.8,"y":25},{"t":"PD","x":2.8,"y":26},
{"t":"PD","x":4.72,"y":27},{"t":"PD","x":4.72,"y":28}
]
},
"columns": 2,
"spacing": {"row": 4, "column": 1},
"align": "each",
"concat": [
{
 "width": 615, "height": 81,
 "data": {"name": "topHist"},
 "mark": {"type": "bar", "orient": "vertical", "fillOpacity": 0.6, "stroke": "#1a1a1a", "strokeWidth": 0.9},
 "encoding": {
  "x": {"field": "x0", "type": "quantitative", "scale": {"domain": [-7.1, 6.05], "nice": false, "zero": false}, "axis": null},
  "x2": {"field": "x1"},
  "y": {"field": "n", "type": "quantitative", "stack": "zero", "scale": {"domain": [0, 245], "nice": false}, "axis": null},
  "color": {"field": "t", "type": "nominal", "title": "Treatment", "scale": {"domain": ["MDD", "PD", "SAD"], "range": ["#221150", "#FEB77E", "#B63679"]},
    "legend": {"orient": "none", "legendX": 206, "legendY": 562, "direction": "horizontal", "titleOrient": "left", "titleFontSize": 13, "titleFontWeight": "normal", "titleColor": "#1a1a1a", "titlePadding": 2, "symbolType": "stroke", "symbolStrokeWidth": 4, "symbolSize": 170, "symbolOpacity": 1, "labelFontSize": 9.5, "labelColor": "#333333", "labelOffset": 4, "columnPadding": 8}},
  "order": {"field": "t", "sort": "descending"}
 }
},
{
 "width": 113, "height": 81,
 "data": {"name": "blank"},
 "mark": {"type": "text"},
 "encoding": {"text": {"field": "k"}}
},
{
 "width": 615, "height": 428,
 "layer": [
  {
   "data": {"name": "pts"},
   "mark": {"type": "circle", "size": 30, "opacity": 0.68},
   "encoding": {
    "x": {"field": "x", "type": "quantitative", "title": "Latent Score",
      "scale": {"domain": [-7.1, 6.05], "nice": false, "zero": false},
      "axis": {"values": [-6, -4.5, -3, -1.5, 0, 1.5, 3, 4.5, 6], "labelExpr": "datum.value % 3 === 0 ? datum.label : ''", "labelPadding": 3, "titlePadding": 3, "labelFlush": false}},
    "y": {"field": "y", "type": "quantitative", "title": "Org. ordinal sum score",
      "scale": {"domain": [-6.95, 146], "nice": false, "zero": false},
      "axis": {"values": [0, 25, 50, 75, 100, 125], "labelExpr": "datum.value % 50 === 0 ? datum.label : ''", "labelPadding": 4, "titlePadding": 0, "labelFlush": false}},
    "color": {"field": "t", "type": "nominal", "title": "Treatment",
      "legend": {"orient": "none", "legendX": 206, "legendY": 562, "direction": "horizontal", "titleOrient": "left", "titleFontSize": 13, "titleFontWeight": "normal", "titleColor": "#1a1a1a", "titlePadding": 2, "symbolType": "stroke", "symbolStrokeWidth": 4, "symbolSize": 170, "symbolOpacity": 1, "labelFontSize": 9.5, "labelColor": "#333333", "labelOffset": 4, "columnPadding": 8}}
   }
  },
  {
   "data": {"name": "fit"},
   "mark": {"type": "line", "strokeWidth": 3.5, "interpolate": "monotone", "strokeCap": "round"},
   "encoding": {
    "x": {"field": "x", "type": "quantitative"},
    "y": {"field": "y", "type": "quantitative"},
    "color": {"field": "t", "type": "nominal", "title": "Treatment",
      "legend": {"orient": "none", "legendX": 206, "legendY": 562, "direction": "horizontal", "titleOrient": "left", "titleFontSize": 13, "titleFontWeight": "normal", "titleColor": "#1a1a1a", "titlePadding": 2, "symbolType": "stroke", "symbolStrokeWidth": 4, "symbolSize": 170, "symbolOpacity": 1, "labelFontSize": 9.5, "labelColor": "#333333", "labelOffset": 4, "columnPadding": 8}}
   }
  }
 ]
},
{
 "width": 113, "height": 428,
 "data": {"name": "rightHist"},
 "mark": {"type": "bar", "orient": "horizontal", "fillOpacity": 0.6, "stroke": "#1a1a1a", "strokeWidth": 0.9},
 "encoding": {
  "y": {"field": "y0", "type": "quantitative", "scale": {"domain": [-6.95, 146], "nice": false, "zero": false}, "axis": null},
  "y2": {"field": "y1"},
  "x": {"field": "n", "type": "quantitative", "stack": "zero", "scale": {"domain": [0, 338], "nice": false}, "axis": null},
  "color": {"field": "t", "type": "nominal", "title": "Treatment",
    "legend": {"orient": "none", "legendX": 206, "legendY": 562, "direction": "horizontal", "titleOrient": "left", "titleFontSize": 13, "titleFontWeight": "normal", "titleColor": "#1a1a1a", "titlePadding": 2, "symbolType": "stroke", "symbolStrokeWidth": 4, "symbolSize": 170, "symbolOpacity": 1, "labelFontSize": 9.5, "labelColor": "#333333", "labelOffset": 4, "columnPadding": 8}},
  "order": {"field": "t", "sort": "descending"}
 }
}
]
}
